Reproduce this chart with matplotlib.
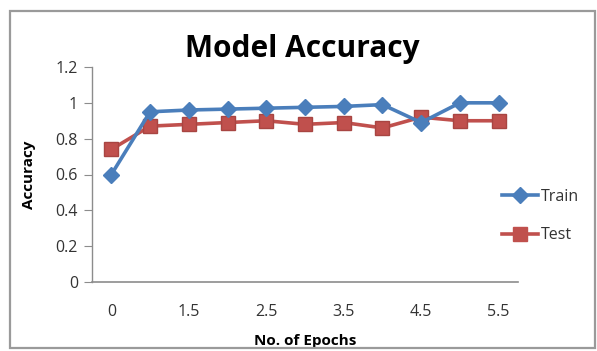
import matplotlib
matplotlib.use("Agg")
import matplotlib.pyplot as plt
from matplotlib.lines import Line2D
from matplotlib.patches import Rectangle

# Accuracy per epoch step
epochs = ["0", "1", "1.5", "2", "2.5", "3", "3.5", "4", "4.5", "5", "5.5"]
train_acc = [0.60, 0.95, 0.96, 0.965, 0.97, 0.975, 0.98, 0.99, 0.89, 1.00, 1.00]
test_acc = [0.74, 0.87, 0.88, 0.89, 0.90, 0.88, 0.89, 0.86, 0.92, 0.90, 0.90]
y_ticks = [0, 0.2, 0.4, 0.6, 0.8, 1, 1.2]
y_tick_labels = ["0", "0.2", "0.4", "0.6", "0.8", "1", "1.2"]

BLUE = "#4a7ebb"
RED = "#c0504d"
W, H = 597, 351

plt.rcParams["font.family"] = ["Open Sans", "DejaVu Sans"]

fig = plt.figure(figsize=(W / 100, H / 100), dpi=100)
fig.patch.set_facecolor("white")

# outer chart frame
fig.add_artist(Rectangle((10 / W, 3 / H), 585 / W, (H - 14) / H,
                         transform=fig.transFigure, fill=False,
                         edgecolor="#9a9a9a", linewidth=1.6))

ax = fig.add_axes([92 / W, 1 - 282 / H, (518 - 92) / W, (282 - 67) / H])
x = list(range(len(epochs)))
ax.plot(x, train_acc, color=BLUE, linewidth=2.6, marker="D", markersize=8,
        markerfacecolor=BLUE, markeredgecolor=BLUE, label="Train", zorder=3)
ax.plot(x, test_acc, color=RED, linewidth=2.6, marker="s", markersize=9.5,
        markerfacecolor=RED, markeredgecolor="#a84542", label="Test", zorder=2)

ax.set_xlim(-0.5, len(epochs) - 0.5)
ax.set_ylim(0, 1.2)
ax.set_yticks(y_ticks)
ax.set_yticklabels(y_tick_labels)
ax.set_xticks(x[::2])
ax.set_xticklabels(epochs[::2])

for side in ("top", "right"):
    ax.spines[side].set_visible(False)
ax.spines["left"].set_color("#8c8c8c")
ax.spines["bottom"].set_color("#8c8c8c")
ax.spines["left"].set_linewidth(1.0)
ax.spines["bottom"].set_linewidth(1.2)

ax.tick_params(axis="y", length=6, color="#8c8c8c", labelsize=11.5,
               labelcolor="#333333", pad=4)
ax.tick_params(axis="x", length=0, labelsize=11.5, labelcolor="#333333", pad=16)

ax.set_ylabel("Accuracy", fontsize=11, fontweight="bold", labelpad=14)
ax.set_xlabel("No. of Epochs", fontsize=11, fontweight="bold", labelpad=10)
fig.text(302 / W, 1 - 49 / H, "Model Accuracy", fontsize=21.5, fontweight="bold",
         ha="center", va="center")

handles = [
    Line2D([], [], color=BLUE, linewidth=2.6, marker="D", markersize=8),
    Line2D([], [], color=RED, linewidth=2.6, marker="s", markersize=9.5),
]
fig.legend(handles, ["Train", "Test"], loc="center left",
           bbox_to_anchor=(488 / W, 1 - 216 / H), frameon=False,
           fontsize=11.5, handlelength=2.2, handletextpad=0.2,
           labelspacing=1.4, labelcolor="#333333")

fig.savefig("out.png", dpi=100, facecolor="white")
